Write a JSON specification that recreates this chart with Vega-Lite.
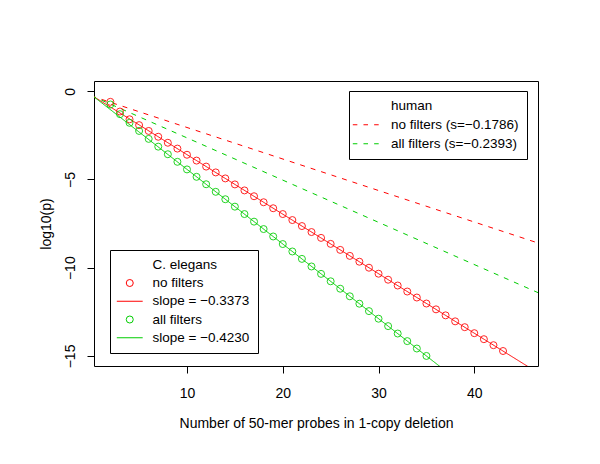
{
  "$schema": "https://vega.github.io/schema/vega-lite/v6.json",
  "autosize": {"type": "none"},
  "padding": {"left": 94, "top": 81, "right": 62, "bottom": 98},
  "width": 444,
  "height": 285,
  "background": "white",
  "config": {
    "view": {"stroke": "black", "strokeWidth": 1},
    "font": "Liberation Sans",
    "axis": {
      "domain": false, "grid": false, "tickColor": "black", "tickSize": 7, "tickWidth": 1,
      "labelFont": "Liberation Sans", "labelFontSize": 14, "labelColor": "black",
      "titleFont": "Liberation Sans", "titleFontSize": 14, "titleFontWeight": "normal", "titleColor": "black"
    },
    "legend": {
      "labelFont": "Liberation Sans", "labelFontSize": 13.5, "labelColor": "black",
      "strokeColor": "black", "fillColor": "white", "symbolOpacity": 1
    }
  },
  "datasets": {
    "lines": [
      {"line": "ce_no", "x": 0, "y": -0.22}, {"line": "ce_no", "x": 50, "y": -17.085},
      {"line": "ce_all", "x": 0, "y": -0.197}, {"line": "ce_all", "x": 50, "y": -21.347},
      {"line": "hu_no", "x": 0, "y": -0.268}, {"line": "hu_no", "x": 50, "y": -9.198},
      {"line": "hu_all", "x": 0, "y": -0.25}, {"line": "hu_all", "x": 50, "y": -12.215}
    ],
    "circles": [
      {"series": "no", "x": 2, "y": -0.60}, {"series": "no", "x": 3, "y": -1.15}, {"series": "no", "x": 4, "y": -1.59},
      {"series": "no", "x": 5, "y": -1.92}, {"series": "no", "x": 6, "y": -2.25}, {"series": "no", "x": 7, "y": -2.58},
      {"series": "no", "x": 8, "y": -2.92}, {"series": "no", "x": 9, "y": -3.25}, {"series": "no", "x": 10, "y": -3.60},
      {"series": "no", "x": 11, "y": -3.93}, {"series": "no", "x": 12, "y": -4.27}, {"series": "no", "x": 13, "y": -4.60},
      {"series": "no", "x": 14, "y": -4.94}, {"series": "no", "x": 15, "y": -5.28}, {"series": "no", "x": 16, "y": -5.62},
      {"series": "no", "x": 17, "y": -5.95}, {"series": "no", "x": 18, "y": -6.29}, {"series": "no", "x": 19, "y": -6.63},
      {"series": "no", "x": 20, "y": -6.96}, {"series": "no", "x": 21, "y": -7.30}, {"series": "no", "x": 22, "y": -7.64},
      {"series": "no", "x": 23, "y": -7.98}, {"series": "no", "x": 24, "y": -8.31}, {"series": "no", "x": 25, "y": -8.65},
      {"series": "no", "x": 26, "y": -8.99}, {"series": "no", "x": 27, "y": -9.33}, {"series": "no", "x": 28, "y": -9.66},
      {"series": "no", "x": 29, "y": -10.00}, {"series": "no", "x": 30, "y": -10.34}, {"series": "no", "x": 31, "y": -10.68},
      {"series": "no", "x": 32, "y": -11.01}, {"series": "no", "x": 33, "y": -11.35}, {"series": "no", "x": 34, "y": -11.69},
      {"series": "no", "x": 35, "y": -12.03}, {"series": "no", "x": 36, "y": -12.36}, {"series": "no", "x": 37, "y": -12.70},
      {"series": "no", "x": 38, "y": -13.04}, {"series": "no", "x": 39, "y": -13.37}, {"series": "no", "x": 40, "y": -13.71},
      {"series": "no", "x": 41, "y": -14.05}, {"series": "no", "x": 42, "y": -14.39}, {"series": "no", "x": 43, "y": -14.72},
      {"series": "all", "x": 2, "y": -0.75}, {"series": "all", "x": 3, "y": -1.30}, {"series": "all", "x": 4, "y": -1.79},
      {"series": "all", "x": 5, "y": -2.25}, {"series": "all", "x": 6, "y": -2.70}, {"series": "all", "x": 7, "y": -3.14},
      {"series": "all", "x": 8, "y": -3.57}, {"series": "all", "x": 9, "y": -4.00}, {"series": "all", "x": 10, "y": -4.43},
      {"series": "all", "x": 11, "y": -4.85}, {"series": "all", "x": 12, "y": -5.27}, {"series": "all", "x": 13, "y": -5.70},
      {"series": "all", "x": 14, "y": -6.12}, {"series": "all", "x": 15, "y": -6.54}, {"series": "all", "x": 16, "y": -6.96},
      {"series": "all", "x": 17, "y": -7.39}, {"series": "all", "x": 18, "y": -7.81}, {"series": "all", "x": 19, "y": -8.23},
      {"series": "all", "x": 20, "y": -8.66}, {"series": "all", "x": 21, "y": -9.08}, {"series": "all", "x": 22, "y": -9.50},
      {"series": "all", "x": 23, "y": -9.93}, {"series": "all", "x": 24, "y": -10.35}, {"series": "all", "x": 25, "y": -10.77},
      {"series": "all", "x": 26, "y": -11.19}, {"series": "all", "x": 27, "y": -11.62}, {"series": "all", "x": 28, "y": -12.04},
      {"series": "all", "x": 29, "y": -12.46}, {"series": "all", "x": 30, "y": -12.89}, {"series": "all", "x": 31, "y": -13.31},
      {"series": "all", "x": 32, "y": -13.73}, {"series": "all", "x": 33, "y": -14.16}, {"series": "all", "x": 34, "y": -14.58},
      {"series": "all", "x": 35, "y": -15.00}
    ],
    "legCE": [
      {"entry": "C. elegans"}, {"entry": "no filters"}, {"entry": "slope = −0.3373"},
      {"entry": "all filters"}, {"entry": "slope = −0.4230"}
    ],
    "legHU": [
      {"entry": "human"}, {"entry": "no filters (s=−0.1786)"}, {"entry": "all filters (s=−0.2393)"}
    ]
  },
  "layer": [
    {
      "data": {"name": "lines"},
      "mark": {"type": "line", "clip": true, "strokeWidth": 1},
      "encoding": {
        "x": {"field": "x", "type": "quantitative",
          "scale": {"domain": [0.29, 46.65], "nice": false, "zero": false},
          "axis": {"values": [10, 20, 30, 40], "labelPadding": 13, "title": "Number of 50-mer probes in 1-copy deletion", "titlePadding": 16}},
        "y": {"field": "y", "type": "quantitative",
          "scale": {"domain": [-15.57, 0.58], "nice": false, "zero": false},
          "axis": {"values": [0, -5, -10, -15], "labelAngle": -90, "labelAlign": "center", "labelBaseline": "alphabetic", "labelPadding": 13, "title": "log10(p)", "titlePadding": 10}},
        "detail": {"field": "line", "type": "nominal"},
        "color": {"field": "line", "type": "nominal", "legend": null,
          "scale": {"domain": ["ce_no", "ce_all", "hu_no", "hu_all"], "range": ["#FF0000", "#00CD00", "#FF0000", "#00CD00"]}},
        "strokeDash": {"field": "line", "type": "nominal", "legend": null,
          "scale": {"domain": ["ce_no", "ce_all", "hu_no", "hu_all"], "range": [[1, 0], [1, 0], [5, 6], [5, 6]]}}
      }
    },
    {
      "data": {"name": "circles"},
      "mark": {"type": "point", "shape": "circle", "filled": false, "size": 49, "strokeWidth": 1, "opacity": 0.85},
      "encoding": {
        "x": {"field": "x", "type": "quantitative"},
        "y": {"field": "y", "type": "quantitative"},
        "color": {"field": "series", "type": "nominal", "legend": null,
          "scale": {"domain": ["no", "all"], "range": ["#FF0000", "#00CD00"]}}
      }
    },
    {
      "data": {"name": "legCE"},
      "mark": {"type": "point", "filled": false, "opacity": 0, "strokeWidth": 1},
      "encoding": {
        "color": {"field": "entry", "type": "nominal",
          "scale": {"domain": ["C. elegans", "no filters", "slope = −0.3373", "all filters", "slope = −0.4230"],
                    "range": ["transparent", "#FF0000", "#FF0000", "#00CD00", "#00CD00"]},
          "legend": {"title": null, "orient": "none", "legendX": 16, "legendY": 169, "padding": 8, "rowPadding": 3.25,
                     "symbolSize": 49, "symbolStrokeWidth": 1, "symbolOffset": 5, "labelOffset": 16, "symbolOpacity": 1}},
        "shape": {"field": "entry", "type": "nominal",
          "scale": {"domain": ["C. elegans", "no filters", "slope = −0.3373", "all filters", "slope = −0.4230"],
                    "range": ["circle", "circle", "M-3.7,0L3.7,0", "circle", "M-3.7,0L3.7,0"]},
          "legend": {"title": null, "orient": "none", "legendX": 16, "legendY": 169, "padding": 8, "rowPadding": 3.25,
                     "symbolSize": 49, "symbolStrokeWidth": 1, "symbolOffset": 5, "labelOffset": 16, "symbolOpacity": 1}}
      }
    },
    {
      "data": {"name": "legHU"},
      "mark": {"type": "point", "filled": false, "opacity": 0, "strokeWidth": 1},
      "encoding": {
        "color": {"field": "entry", "type": "nominal",
          "scale": {"domain": ["human", "no filters (s=−0.1786)", "all filters (s=−0.2393)"],
                    "range": ["transparent", "#FF0000", "#00CD00"]},
          "legend": {"title": null, "orient": "none", "legendX": 255, "legendY": 10, "padding": 8, "rowPadding": 4,
                     "symbolSize": 49, "symbolStrokeWidth": 1, "symbolOffset": 2, "labelOffset": 18.5, "symbolOpacity": 1}},
        "shape": {"field": "entry", "type": "nominal",
          "scale": {"domain": ["human", "no filters (s=−0.1786)", "all filters (s=−0.2393)"],
                    "range": ["circle", "M-3.7,0L-2.4,0M-0.65,0L0.65,0M2.4,0L3.7,0", "M-3.7,0L-2.4,0M-0.65,0L0.65,0M2.4,0L3.7,0"]},
          "legend": {"title": null, "orient": "none", "legendX": 255, "legendY": 10, "padding": 8, "rowPadding": 4,
                     "symbolSize": 49, "symbolStrokeWidth": 1, "symbolOffset": 2, "labelOffset": 18.5, "symbolOpacity": 1}}
      }
    }
  ],
  "resolve": {"scale": {"color": "independent", "shape": "independent", "strokeDash": "independent"}}
}
